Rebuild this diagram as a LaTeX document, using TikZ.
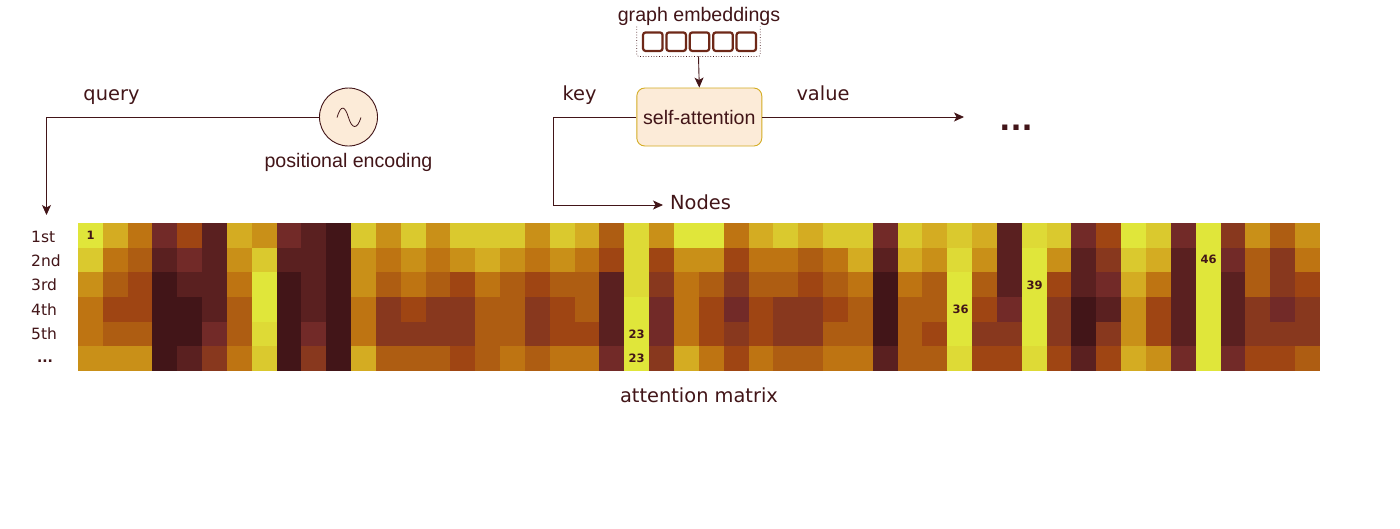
\documentclass[tikz,border=0pt]{standalone}
\usepackage{fontspec}
\setmainfont{DejaVu Sans}
\newfontfamily\lib{Liberation Sans}
\usetikzlibrary{arrows.meta}
\definecolor{ink}{HTML}{421518}
\definecolor{ca}{HTML}{E0E63A}
\definecolor{cl}{HTML}{DEDA36}
\definecolor{cb}{HTML}{DAC92E}
\definecolor{cc}{HTML}{D4AC22}
\definecolor{cd}{HTML}{C99018}
\definecolor{ce}{HTML}{BE7412}
\definecolor{cf}{HTML}{AE5D12}
\definecolor{cg}{HTML}{9F4513}
\definecolor{ch}{HTML}{88381E}
\definecolor{ci}{HTML}{722A28}
\definecolor{cj}{HTML}{5A2020}
\definecolor{ck}{HTML}{421518}
\definecolor{peach}{HTML}{FCEBD8}
\definecolor{embline}{HTML}{6E2818}
\tikzset{
  wire/.style={draw=ink,line width=0.9pt},
  tip/.style={-{Stealth[length=10pt,width=9pt,inset=2.5pt]}},
  lab/.style={text=ink,inner sep=0pt,anchor=base,font=\fontsize{19.4}{21}\selectfont},
  arial/.style={text=ink,inner sep=0pt,anchor=base,font=\lib\fontsize{19.6}{21}\selectfont},
  rowlab/.style={text=ink,inner sep=0pt,anchor=base west,font=\fontsize{15.5}{17}\selectfont},
  num/.style={text=ink,inner sep=0pt,font=\bfseries\fontsize{11.5}{13}\selectfont},
  emb/.style={draw=embline,line width=2.2pt,fill=white,rounded corners=2.5pt,minimum width=19.5pt,minimum height=18.5pt,inner sep=0pt},
}
\begin{document}
\begin{tikzpicture}[x=1pt,y=-1pt]
\fill[white] (0,0) rectangle (1400,528);
\useasboundingbox (0,0) rectangle (1400,528);
% attention matrix
\foreach \colm [count=\cx from 0] in {
{a,b,d,e,e,d},{c,e,f,g,f,d},{e,f,g,g,f,d},{i,j,k,k,k,k},{g,i,j,k,k,j},{j,j,j,j,i,h},
{c,d,e,f,f,e},{d,b,a,a,l,b},{i,j,k,k,k,k},{j,j,j,j,i,h},{k,k,k,k,k,k},{b,d,d,e,e,c},
{d,e,f,h,h,f},{b,d,e,g,h,f},{d,e,f,h,h,f},{b,d,g,h,h,g},{b,c,e,f,f,f},{b,d,f,f,f,e},
{d,e,g,h,h,f},{b,d,f,g,g,e},{c,e,f,f,g,e},{f,g,j,j,j,i},{l,l,l,a,a,a},{d,g,h,i,i,h},
{a,d,e,e,e,c},{a,d,f,g,g,e},{e,g,h,i,h,g},{c,e,f,g,g,e},{b,e,f,h,h,f},{c,f,g,h,h,f},
{b,e,f,g,f,e},{b,c,e,f,f,e},{i,j,k,k,k,j},{b,c,e,f,f,f},{c,d,f,f,g,f},{b,l,a,a,a,l},
{c,d,f,g,h,g},{j,j,j,i,h,g},{l,a,a,a,a,l},{b,d,g,h,h,g},{i,j,j,k,k,j},{g,h,i,j,h,g},
{a,b,c,d,d,c},{b,c,e,g,g,d},{i,j,j,j,j,i},{a,a,a,a,a,a},{h,i,j,j,j,i},{d,f,f,h,h,g},
{f,h,h,i,h,g},{d,e,g,h,h,f}} {
  \foreach \val [count=\cy from 0] in \colm {
    \fill[c\val] ({78+24.84*\cx-0.15},{223+24.67*\cy-0.15}) rectangle ({78+24.84*(\cx+1)+0.15},{223+24.67*(\cy+1)+0.15});
  }
}
% cover the overlap margin
\fill[white] (0,220) rectangle (1400,223);
\fill[white] (0,371) rectangle (1400,374);
% matrix numbers
\node[num] (n1) at (90.5,235.5) {1};
\node[num] (n23a) at (636.5,334.5) {23};
\node[num] (n23b) at (636.5,358.5) {23};
\node[num] (n36) at (960.5,309.5) {36};
\node[num] (n39) at (1034.5,285) {39};
\node[num] (n46) at (1208.5,259.5) {46};
% row labels
\node[rowlab] (r1) at (31,242.5) {1st};
\node[rowlab] (r2) at (31,266) {2nd};
\node[rowlab] (r3) at (31,290) {3rd};
\node[rowlab] (r4) at (31,315) {4th};
\node[rowlab] (r5) at (31,339) {5th};
\node[text=ink,inner sep=0pt,anchor=base,font=\bfseries\fontsize{14}{16}\selectfont] (r6) at (45,362) {...};
\node[lab] (amat) at (699,402) {attention matrix};
% top blocks
\node[arial] (gemb) at (699,21.7) {graph embeddings};
\node[minimum width=123pt,minimum height=29.5pt,inner sep=0pt] (gbox) at (698.5,41.5) {};
\draw[ink,dotted,line width=0.7pt,rounded corners=2pt] (gbox.north west) -- (gbox.south west) -- (gbox.south east) -- (gbox.north east);
\node[emb] (e1) at (652.8,41.7) {};
\node[emb] (e2) at (676.2,41.7) {};
\node[emb] (e3) at (699.5,41.7) {};
\node[emb] (e4) at (723,41.7) {};
\node[emb] (e5) at (746.3,41.7) {};
\node[draw=cc,fill=peach,line width=0.9pt,rounded corners=8pt,minimum width=125pt,minimum height=58pt,inner sep=0pt,text=ink,font=\lib\fontsize{19.6}{21}\selectfont] (sa) at (699.3,117) {self-attention};
\node[circle,draw=ink,fill=peach,line width=0.9pt,minimum size=58pt,inner sep=0pt] (pe) at (348.5,117) {};
\draw[draw=ink,line width=0.8pt] (337,117.5) .. controls (341,104) and (345,106) .. (348.5,117.5) .. controls (352,129) and (357,130) .. (361,117.5);
\node[arial] (pelab) at (348.5,167) {positional encoding};
\node[lab] (qlab) at (111.5,100.5) {query};
\node[lab] (klab) at (579.5,100) {key};
\node[lab] (vlab) at (823,100) {value};
\node[lab,anchor=base west] (nodes) at (670,209) {Nodes};
\node[text=ink,inner sep=0pt,anchor=base,font=\bfseries\fontsize{29}{30}\selectfont] (dots) at (1016,130) {...};
\coordinate (qc) at (46.5,117);
\coordinate (qe) at (46.5,215);
\coordinate (kc) at (553.5,117);
\coordinate (kd) at (553.5,205);
\coordinate (ke) at (663,205);
\coordinate (ve) at (964,117);
\draw[wire,tip] (pe.west) -- (qc) -- (qe);
\draw[wire,tip] (sa.west) -- (kc) -- (kd) -- (ke);
\draw[wire,tip] (sa.east) -- (ve);
\draw[wire,tip] (gbox.south) -- (sa.north);
\end{tikzpicture}
\end{document}
